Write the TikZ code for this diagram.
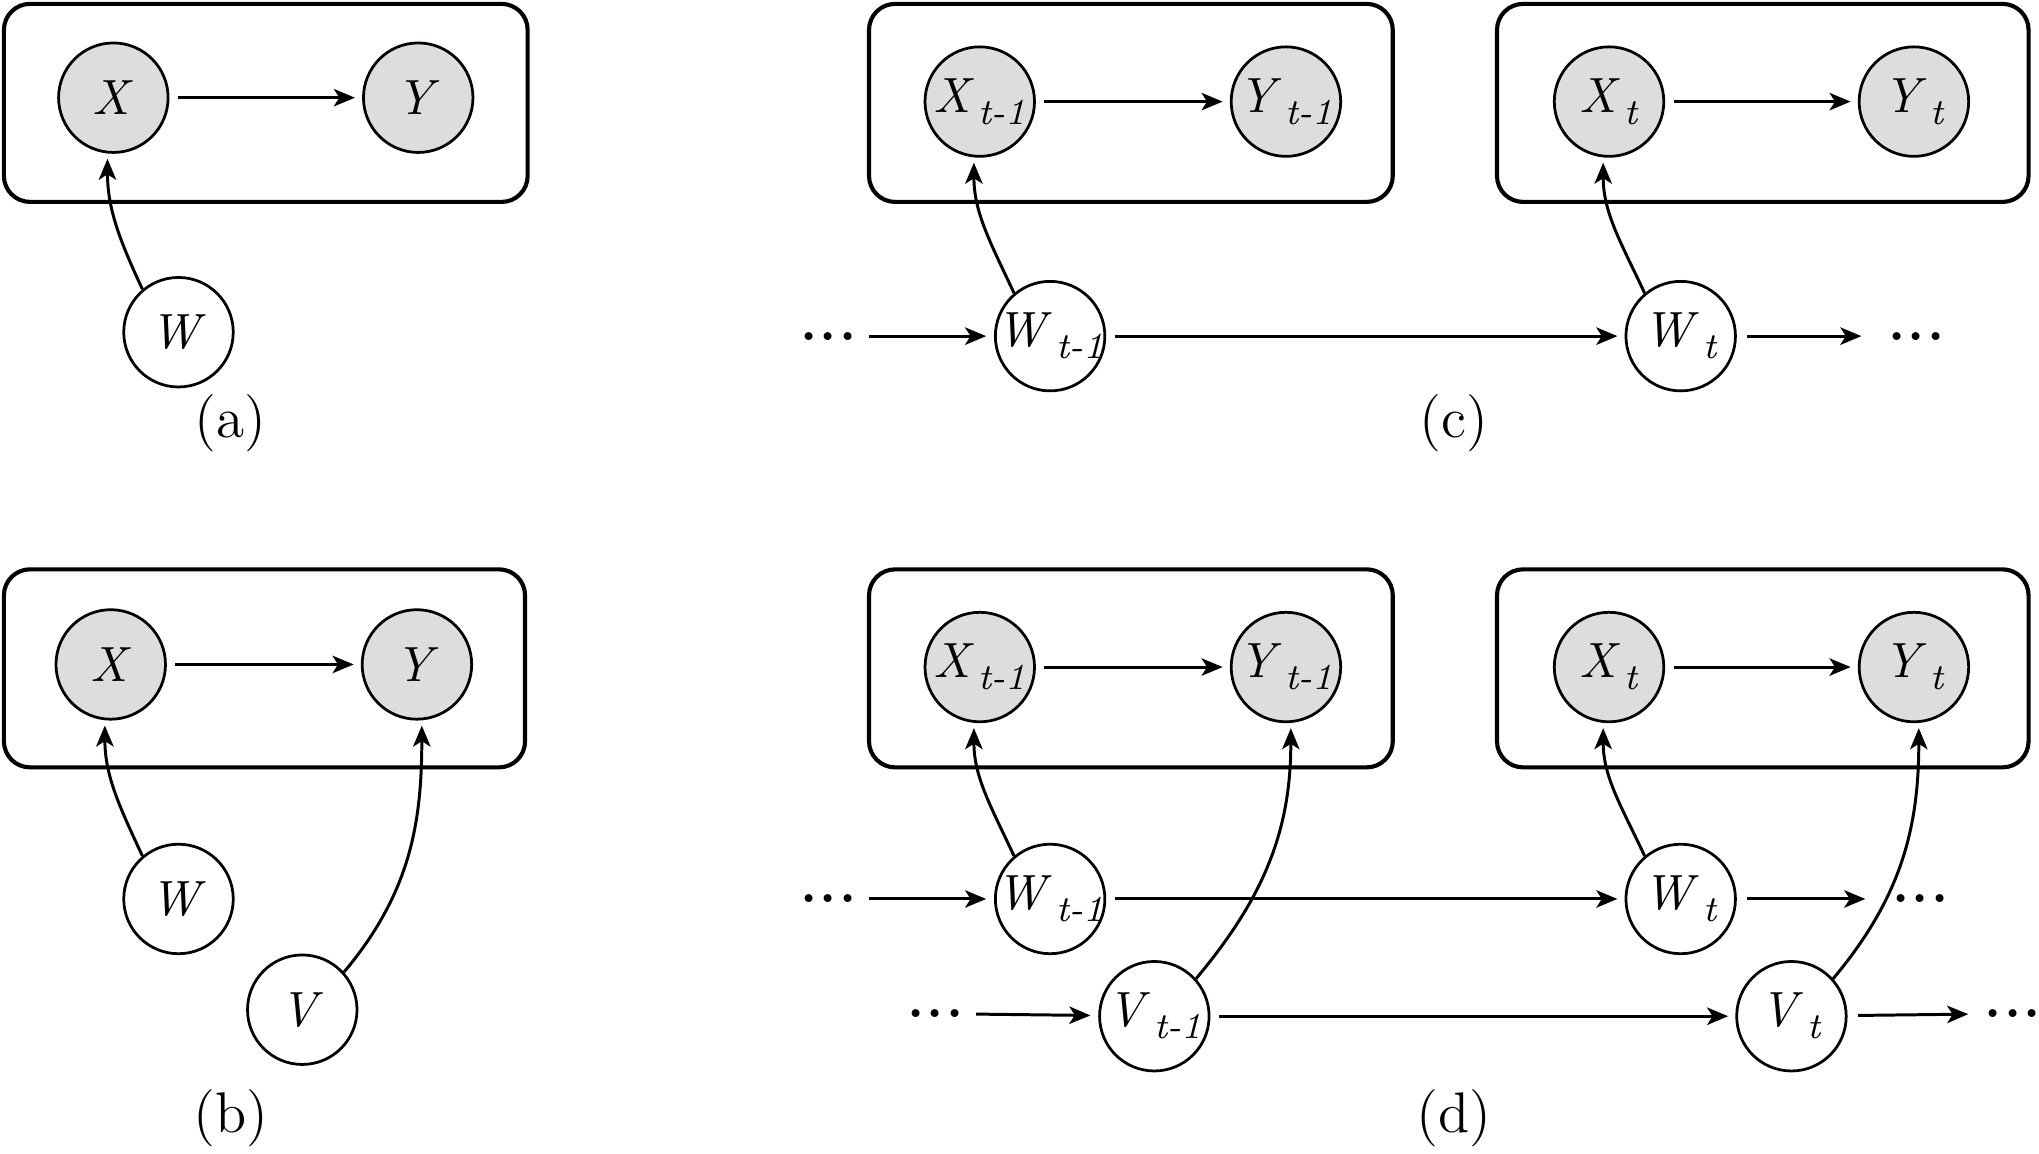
\documentclass[tikz,border=0pt]{standalone}
\usepackage{fontspec}
\usetikzlibrary{arrows.meta}
\definecolor{nodegray}{HTML}{DCDDDE}
\newcommand\nsub[2]{\makebox[0pt]{\textit{#1}\kern0.8pt\raisebox{-2.6pt}{\fontsize{8}{9}\selectfont\textit{#2}}}}
\newcommand\mydots{\textbf{.\kern0.5pt.\kern0.5pt.}}
\begin{document}
\begin{tikzpicture}[x=0.01cm,y=0.01cm,
  var/.style={circle,draw,line width=0.6pt,minimum size=0.84cm,inner sep=0pt,font=\fontsize{10.8}{13}\selectfont},
  obs/.style={var,fill=nodegray},
  plate/.style={draw,line width=0.9pt,rounded corners=2mm},
  arr/.style={-{Stealth[length=4.6pt,width=3.8pt,inset=1.2pt]},line width=0.65pt},
  harr/.style={arr,shorten <=0.65mm,shorten >=0.55mm},
  carr/.style={arr,shorten >=0.4mm},
  dotsn/.style={inner sep=0pt,font=\fontsize{12}{14}\selectfont},
  lab/.style={font=\fontsize{12.5}{15}\selectfont}]
\useasboundingbox (0,0) rectangle (1565,885);
% ---------- (a)
\draw[plate] (3,730) rectangle (405,882);
\node[obs] (aX) at (87,810) {\textit{X}};
\node[obs] (aY) at (321,810) {\textit{Y}};
\node[var] (aW) at (137,630) {\textit{W}};
\draw[harr] (aX) -- (aY);
\draw[carr] (aW.130) to[out=115,in=-90] (aX.-96);
\node[lab] (la) at (177,560) {(a)};
% ---------- (b)
\draw[plate] (3,296) rectangle (403,448);
\node[obs] (bX) at (85,375) {\textit{X}};
\node[obs] (bY) at (320,375) {\textit{Y}};
\node[var] (bW) at (137,195) {\textit{W}};
\node[var] (bV) at (232,110) {\textit{V}};
\draw[harr] (bX) -- (bY);
\draw[carr] (bW.130) to[out=115,in=-90] (bX.-96);
\draw[carr] (bV.42) to[out=50,in=-90] (bY.-85);
\node[lab] (lb) at (177,27) {(b)};
% ---------- (c)
\draw[plate] (667,730) rectangle (1069,882);
\draw[plate] (1149,730) rectangle (1557,882);
\node[obs] (cX1) at (752,807) {\nsub{X}{t-1}};
\node[obs] (cY1) at (987,807) {\nsub{Y}{t-1}};
\node[obs] (cX2) at (1235,807) {\nsub{X}{t}};
\node[obs] (cY2) at (1469,807) {\nsub{Y}{t}};
\node[var] (cW1) at (806,627) {\nsub{W}{t-1}};
\node[var] (cW2) at (1290,627) {\nsub{W}{t}};
\node[dotsn] (cdL) at (636,627) {\mydots};
\node[dotsn] (cdR) at (1471,627) {\mydots};
\draw[harr] (cX1) -- (cY1);
\draw[harr] (cX2) -- (cY2);
\draw[carr] (cW1.130) to[out=115,in=-90] (cX1.-96);
\draw[carr] (cW2.130) to[out=115,in=-90] (cX2.-96);
\draw[arr,shorten <=0.9mm,shorten >=0.6mm] (cdL) -- (cW1);
\draw[harr] (cW1) -- (cW2);
\draw[arr,shorten <=0.8mm,shorten >=2mm] (cW2) -- (cdR);
\node[lab] (lc) at (1116,560) {(c)};
% ---------- (d)
\draw[plate] (667,296) rectangle (1069,448);
\draw[plate] (1149,296) rectangle (1557,448);
\node[obs] (dX1) at (752,373) {\nsub{X}{t-1}};
\node[obs] (dY1) at (987,373) {\nsub{Y}{t-1}};
\node[obs] (dX2) at (1235,373) {\nsub{X}{t}};
\node[obs] (dY2) at (1469,373) {\nsub{Y}{t}};
\node[var] (dW1) at (806,195) {\nsub{W}{t-1}};
\node[var] (dW2) at (1290,195) {\nsub{W}{t}};
\node[var] (dV1) at (886,105) {\nsub{V}{t-1}};
\node[var] (dV2) at (1375,105) {\nsub{V}{t}};
\node[dotsn] (ddWL) at (636,195) {\mydots};
\node[dotsn] (ddWR) at (1474,195) {\mydots};
\node[dotsn] (ddVL) at (718,107) {\mydots};
\node[dotsn] (ddVR) at (1545,107) {\mydots};
\draw[harr] (dX1) -- (dY1);
\draw[harr] (dX2) -- (dY2);
\draw[carr] (dW1.130) to[out=115,in=-90] (dX1.-96);
\draw[carr] (dW2.130) to[out=115,in=-90] (dX2.-96);
\draw[carr] (dV1.42) to[out=50,in=-90] (dY1.-85);
\draw[carr] (dV2.42) to[out=50,in=-90] (dY2.-85);
\draw[arr,shorten <=0.9mm,shorten >=0.6mm] (ddWL) -- (dW1);
\draw[harr] (dW1) -- (dW2);
\draw[arr,shorten <=0.8mm,shorten >=2mm] (dW2) -- (ddWR);
\draw[arr,shorten <=0.9mm,shorten >=0.6mm] (ddVL) -- (dV1);
\draw[harr] (dV1) -- (dV2);
\draw[arr,shorten <=0.8mm,shorten >=1.2mm] (dV2) -- (ddVR);
\node[lab] (ld) at (1116,27) {(d)};
\end{tikzpicture}
\end{document}
